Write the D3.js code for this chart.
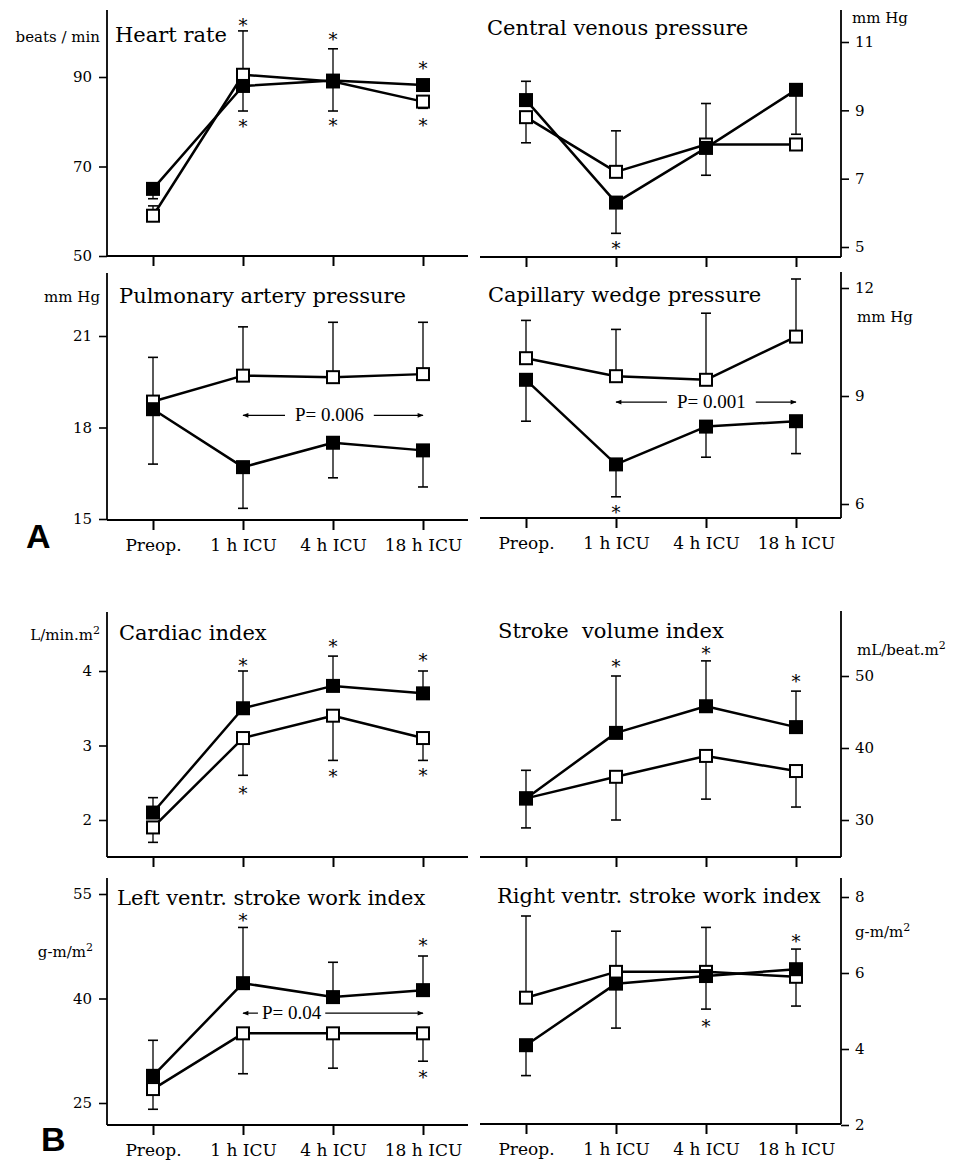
<!doctype html>
<html>
<head>
  <meta charset="utf-8" />
  <script src="https://cdn.jsdelivr.net/npm/d3@7"></script>
  <style>
  body{
    margin: 0;
    background: #fff;
  }
  svg text{
    font-family: "DejaVu Serif", serif;
    fill: #000;
  }
  .frame line, .tick line{
    stroke: #000;
  }
  </style>
</head>
<body>
  <div id="viz"></div>

  <script>
  // time points, shared by all eight panels
  var categories = ["Preop.", "1 h ICU", "4 h ICU", "18 h ICU"];

  // error bars: [time index, series ('o' open / 'f' filled), end value]
  // stars: [time index, value where the asterisk sits]

  // Heart rate
  var hrTicks = [50, 70, 90];
  var hrOpen = [59, 90.5, 89, 84.5];
  var hrFilled = [65, 88, 89.2, 88.2];
  var hrErr = [[0, 'f', 62.8], [0, 'o', 61.2], [1, 'o', 100.3], [1, 'f', 82.4], [2, 'f', 96.3], [2, 'o', 82.4], [3, 'o', 83]];
  var hrStars = [[1, 102.3], [1, 79.7], [2, 99.2], [2, 79.9], [3, 92.7], [3, 79.9]];

  // Central venous pressure
  var cvpTicks = [5, 7, 9, 11];
  var cvpOpen = [8.8, 7.2, 8.0, 8.0];
  var cvpFilled = [9.3, 6.3, 7.9, 9.6];
  var cvpErr = [[0, 'f', 9.85], [0, 'o', 8.05], [1, 'o', 8.4], [1, 'f', 5.4], [2, 'f', 9.2], [2, 'o', 7.1], [3, 'f', 8.3]];
  var cvpStars = [[1, 5.06]];

  // Pulmonary artery pressure
  var papTicks = [15, 18, 21];
  var papOpen = [18.85, 19.7, 19.65, 19.75];
  var papFilled = [18.6, 16.7, 17.5, 17.25];
  var papErr = [[0, 'o', 20.3], [0, 'f', 16.8], [1, 'o', 21.3], [1, 'f', 15.35], [2, 'o', 21.45], [2, 'f', 16.35], [3, 'o', 21.45], [3, 'f', 16.05]];
  var papStars = [];
  var papP = [1, 3, 18.4, "P= 0.006"];

  // Capillary wedge pressure
  var cwpTicks = [6, 9, 12];
  var cwpOpen = [10.05, 9.55, 9.45, 10.65];
  var cwpFilled = [9.45, 7.1, 8.15, 8.3];
  var cwpErr = [[0, 'o', 11.1], [0, 'f', 8.3], [1, 'o', 10.85], [1, 'f', 6.2], [2, 'o', 11.3], [2, 'f', 7.3], [3, 'o', 12.25], [3, 'f', 7.4]];
  var cwpStars = [[1, 5.85]];
  var cwpP = [1, 3, 8.83, "P= 0.001"];

  // Cardiac index
  var ciTicks = [2, 3, 4];
  var ciOpen = [1.9, 3.1, 3.4, 3.1];
  var ciFilled = [2.1, 3.5, 3.8, 3.7];
  var ciErr = [[0, 'f', 2.3], [0, 'o', 1.7], [1, 'f', 4.0], [1, 'o', 2.6], [2, 'f', 4.2], [2, 'o', 2.8], [3, 'f', 4.0], [3, 'o', 2.8]];
  var ciStars = [[1, 4.12], [1, 2.4], [2, 4.37], [2, 2.63], [3, 4.19], [3, 2.65]];

  // Stroke volume index
  var sviTicks = [30, 40, 50];
  var sviOpen = [33, 36, 38.9, 36.8];
  var sviFilled = [33, 42.1, 45.8, 42.9];
  var sviErr = [[0, 'o', 36.9], [0, 'f', 28.9], [1, 'f', 50], [1, 'o', 30], [2, 'f', 52.1], [2, 'o', 32.9], [3, 'f', 47.9], [3, 'o', 31.8]];
  var sviStars = [[1, 51.8], [2, 53.6], [3, 49.7]];

  // Left ventr. stroke work index
  var lvTicks = [25, 40, 55];
  var lvOpen = [27, 35, 35, 35];
  var lvFilled = [28.9, 42.2, 40.2, 41.2];
  var lvErr = [[0, 'f', 34], [0, 'o', 24.1], [1, 'f', 50.2], [1, 'o', 29.2], [2, 'f', 45.2], [2, 'o', 30], [3, 'f', 46.1], [3, 'o', 31]];
  var lvStars = [[1, 51.7], [3, 48.1], [3, 29.2]];
  var lvP = [1, 3, 37.9, "P= 0.04"];

  // Right ventr. stroke work index
  var rvTicks = [2, 4, 6, 8];
  var rvOpen = [5.35, 6.03, 6.03, 5.9];
  var rvFilled = [4.1, 5.72, 5.92, 6.1];
  var rvErr = [[0, 'o', 7.5], [0, 'f', 3.3], [1, 'o', 7.1], [1, 'f', 4.55], [2, 'o', 7.2], [2, 'f', 5.05], [3, 'f', 6.63], [3, 'o', 5.13]];
  var rvStars = [[2, 4.68], [3, 6.92]];

  var width = 965, height = 1163;

  // page layout (pixels), left column / right column
  var colLeft = {side: 'left', axisX: 107, xRange: [153, 423], lineFrom: 107, lineTo: 468};
  var colRight = {side: 'right', axisX: 841, xRange: [526, 796], lineFrom: 480, lineTo: 841};

  var panels = [
    {col: colLeft, title: "Heart rate", titleX: 115, titleY: 42, unit: ["beats / min"], unitX: 100, unitY: 42,
      ticks: hrTicks, pix: [256, 77], top: 10, bottom: 256, open: hrOpen, filled: hrFilled, err: hrErr, stars: hrStars},
    {col: colRight, title: "Central venous pressure", titleX: 487, titleY: 35, unit: ["mm Hg"], unitX: 852, unitY: 23,
      ticks: cvpTicks, pix: [247, 42], top: 10, bottom: 257, open: cvpOpen, filled: cvpFilled, err: cvpErr, stars: cvpStars},
    {col: colLeft, title: "Pulmonary artery pressure", titleX: 119, titleY: 303, unit: ["mm Hg"], unitX: 100, unitY: 302,
      ticks: papTicks, pix: [519, 336], top: 273, bottom: 520, open: papOpen, filled: papFilled, err: papErr, stars: papStars,
      pval: papP, pFrac: 0.48, labels: true},
    {col: colRight, title: "Capillary wedge pressure", titleX: 488, titleY: 302, unit: ["mm Hg"], unitX: 857, unitY: 322,
      ticks: cwpTicks, pix: [504, 288], top: 272, bottom: 518, open: cwpOpen, filled: cwpFilled, err: cwpErr, stars: cwpStars,
      pval: cwpP, pFrac: 0.53, labels: true},
    {col: colLeft, title: "Cardiac index", titleX: 119, titleY: 640, unit: ["L/min.m", "2"], unitX: 100, unitY: 640,
      ticks: ciTicks, pix: [820, 671], top: 612, bottom: 857, open: ciOpen, filled: ciFilled, err: ciErr, stars: ciStars},
    {col: colRight, title: "Stroke  volume index", titleX: 498, titleY: 638, unit: ["mL/beat.m", "2"], unitX: 857, unitY: 655,
      ticks: sviTicks, pix: [820, 676], top: 611, bottom: 857, open: sviOpen, filled: sviFilled, err: sviErr, stars: sviStars},
    {col: colLeft, title: "Left ventr. stroke work index", titleX: 117, titleY: 905, unit: ["g-m/m", "2"], unitX: 93, unitY: 957,
      ticks: lvTicks, pix: [1103, 894], top: 878, bottom: 1125, open: lvOpen, filled: lvFilled, err: lvErr, stars: lvStars,
      pval: lvP, pFrac: 0.27, labels: true},
    {col: colRight, title: "Right ventr. stroke work index", titleX: 497, titleY: 903, unit: ["g-m/m", "2"], unitX: 855, unitY: 937,
      ticks: rvTicks, pix: [1125, 897], top: 878, bottom: 1124, open: rvOpen, filled: rvFilled, err: rvErr, stars: rvStars,
      labels: true}
  ];

  var svg = d3.select("#viz")
    .append("svg")
    .attr("width", width)
    .attr("height", height);

  svg.append("rect").attr("width", width).attr("height", height).attr("fill", "#fff");

  var defs = svg.append("defs");
  defs.append("marker")
    .attr("id", "head")
    .attr("viewBox", "0 0 10 10")
    .attr("refX", 9).attr("refY", 5)
    .attr("markerWidth", 9).attr("markerHeight", 6)
    .attr("markerUnits", "userSpaceOnUse")
    .attr("orient", "auto")
    .append("path")
    .attr("d", "M0,1L10,5L0,9z")
    .attr("fill", "#000");

  function drawPanel(p){
    var col = p.col;
    var g = svg.append("g");
    var x = d3.scalePoint().domain(categories).range(col.xRange);
    var y = d3.scaleLinear().domain([p.ticks[0], p.ticks[p.ticks.length - 1]]).range(p.pix);

    // frame: value axis + time axis
    var frame = g.append("g").attr("class", "frame");
    frame.append("line")
      .attr("x1", col.axisX).attr("x2", col.axisX)
      .attr("y1", p.top).attr("y2", p.bottom)
      .attr("stroke-width", 1.8);
    frame.append("line")
      .attr("x1", col.lineFrom).attr("x2", col.lineTo)
      .attr("y1", p.bottom).attr("y2", p.bottom)
      .attr("stroke-width", 1.8);

    var xAxis = d3.axisBottom(x).tickSize(10).tickPadding(9)
      .tickFormat(p.labels ? function(d){ return d; } : function(){ return ""; });
    var xg = g.append("g")
      .attr("transform", "translate(0," + p.bottom + ")")
      .call(xAxis);
    xg.select(".domain").remove();
    xg.selectAll(".tick line").attr("stroke-width", 2);
    xg.selectAll("text").attr("font-family", null).style("font-size", "17px");

    var yAxis = (col.side == 'left' ? d3.axisLeft(y) : d3.axisRight(y))
      .tickValues(p.ticks).tickSize(8).tickPadding(col.side == 'left' ? 7 : 6)
      .tickFormat(d3.format("d"));
    var yg = g.append("g")
      .attr("transform", "translate(" + col.axisX + ",0)")
      .call(yAxis);
    yg.select(".domain").remove();
    yg.selectAll(".tick line").attr("stroke-width", 1.6);
    yg.selectAll("text").attr("font-family", null).style("font-size", "15px");

    // title
    g.append("text")
      .attr("x", p.titleX).attr("y", p.titleY)
      .style("font-size", "21px")
      .style("white-space", "pre")
      .text(p.title);

    // unit
    var unit = g.append("text")
      .attr("x", p.unitX).attr("y", p.unitY)
      .attr("text-anchor", col.side == 'left' ? "end" : "start")
      .style("font-size", "15px");
    unit.append("tspan").text(p.unit[0]);
    if(p.unit[1]){
      unit.append("tspan").attr("dy", -6).style("font-size", "11px").text(p.unit[1]);
    }

    var series = {o: p.open, f: p.filled};
    var line = d3.line()
      .x(function(d, i){ return x(categories[i]); })
      .y(function(d){ return y(d); });

    ['o', 'f'].forEach(function(k){
      g.append("path")
        .attr("d", line(series[k]))
        .attr("fill", "none")
        .attr("stroke", "#000")
        .attr("stroke-width", 2.5)
        .attr("stroke-linejoin", "round");
    });

    // error bars
    var bars = g.append("g").attr("stroke", "#000").attr("stroke-width", 1.3);
    p.err.forEach(function(e){
      var cx = x(categories[e[0]]);
      bars.append("line")
        .attr("x1", cx).attr("x2", cx)
        .attr("y1", y(series[e[1]][e[0]])).attr("y2", y(e[2]));
      bars.append("line")
        .attr("x1", cx - 5).attr("x2", cx + 5)
        .attr("y1", y(e[2])).attr("y2", y(e[2]))
        .attr("stroke-width", 1.6);
    });

    // squares: open first, filled on top
    g.selectAll(".open")
      .data(p.open)
      .enter().append("rect")
      .attr("x", function(d, i){ return x(categories[i]) - 6; })
      .attr("y", function(d){ return y(d) - 6; })
      .attr("width", 12).attr("height", 12)
      .attr("fill", "#fff").attr("stroke", "#000").attr("stroke-width", 2);
    g.selectAll(".filled")
      .data(p.filled)
      .enter().append("rect")
      .attr("x", function(d, i){ return x(categories[i]) - 7; })
      .attr("y", function(d){ return y(d) - 7; })
      .attr("width", 14).attr("height", 14)
      .attr("fill", "#000");

    // significance asterisks
    g.selectAll(".star")
      .data(p.stars)
      .enter().append("text")
      .attr("x", function(d){ return x(categories[d[0]]); })
      .attr("y", function(d){ return y(d[1]) + 10; })
      .attr("text-anchor", "middle")
      .style("font-size", "18px")
      .text("*");

    // P value with arrows
    if(p.pval){
      var x1 = x(categories[p.pval[0]]), x2 = x(categories[p.pval[1]]);
      var py = y(p.pval[2]);
      var tx = x1 + (x2 - x1) * p.pFrac;
      var t = g.append("text")
        .attr("x", tx).attr("y", py + 6)
        .attr("text-anchor", "middle")
        .style("font-family", "'Liberation Serif', serif")
        .style("font-size", "19px")
        .text(p.pval[3]);
      var tw = t.node().getComputedTextLength();
      var gap = p.pFrac < 0.4 ? 4 : 10;
      g.append("line")
        .attr("x1", tx - tw / 2 - gap).attr("x2", x1)
        .attr("y1", py).attr("y2", py)
        .attr("stroke", "#000").attr("stroke-width", 1.2)
        .attr("marker-end", "url(#head)");
      g.append("line")
        .attr("x1", tx + tw / 2 + gap).attr("x2", x2)
        .attr("y1", py).attr("y2", py)
        .attr("stroke", "#000").attr("stroke-width", 1.2)
        .attr("marker-end", "url(#head)");
    }
  }

  panels.forEach(drawPanel);

  // section letters
  svg.append("text").attr("x", 26).attr("y", 548)
    .style("font-family", "'Liberation Sans', sans-serif")
    .style("font-weight", "bold").style("font-size", "34px")
    .text("A");
  svg.append("text").attr("x", 41).attr("y", 1151)
    .style("font-family", "'Liberation Sans', sans-serif")
    .style("font-weight", "bold").style("font-size", "34px")
    .text("B");
  </script>
</body>
</html>
